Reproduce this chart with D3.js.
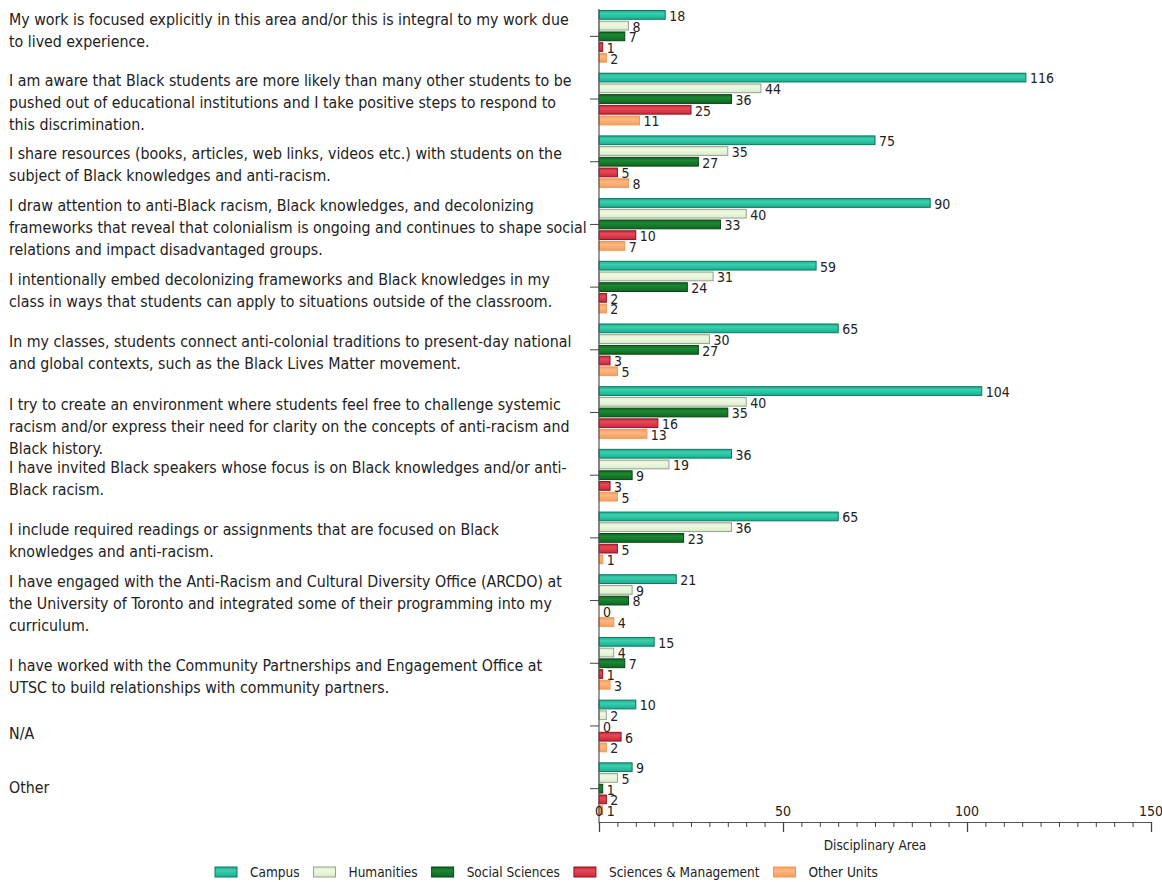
<!DOCTYPE html>
<html><head><meta charset="utf-8">
<script src="https://cdn.jsdelivr.net/npm/d3@7"></script>
<style>
html,body{margin:0;padding:0;background:#fff;}
svg{display:block;}
text{font-family:"DejaVu Sans Condensed","DejaVu Sans",sans-serif;fill:#222;}
</style></head>
<body>
<svg id="chart" width="1162" height="882"></svg>
<script>
const categories = [
  ["My work is focused explicitly in this area and/or this is integral to my work due","to lived experience."],
  ["I am aware that Black students are more likely than many other students to be","pushed out of educational institutions and I take positive steps to respond to","this discrimination."],
  ["I share resources (books, articles, web links, videos etc.) with students on the","subject of Black knowledges and anti-racism."],
  ["I draw attention to anti-Black racism, Black knowledges, and decolonizing","frameworks that reveal that colonialism is ongoing and continues to shape social","relations and impact disadvantaged groups."],
  ["I intentionally embed decolonizing frameworks and Black knowledges in my","class in ways that students can apply to situations outside of the classroom."],
  ["In my classes, students connect anti-colonial traditions to present-day national","and global contexts, such as the Black Lives Matter movement."],
  ["I try to create an environment where students feel free to challenge systemic","racism and/or express their need for clarity on the concepts of anti-racism and","Black history."],
  ["I have invited Black speakers whose focus is on Black knowledges and/or anti-","Black racism."],
  ["I include required readings or assignments that are focused on Black","knowledges and anti-racism."],
  ["I have engaged with the Anti-Racism and Cultural Diversity Office (ARCDO) at","the University of Toronto and integrated some of their programming into my","curriculum."],
  ["I have worked with the Community Partnerships and Engagement Office at","UTSC to build relationships with community partners."],
  ["N/A"],
  ["Other"]
];
const seriesNames = ["Campus","Humanities","Social Sciences","Sciences & Management","Other Units"];
const campus      = [18,116,75,90,59,65,104,36,65,21,15,10,9];
const humanities  = [8,44,35,40,31,30,40,19,36,9,4,2,5];
const social      = [7,36,27,33,24,27,35,9,23,8,7,0,1];
const sciences    = [1,25,5,10,2,3,16,3,5,0,1,6,2];
const otherUnits  = [2,11,8,7,2,5,13,5,1,4,3,2,1];
const xTicks = [0,50,100,150];
const xTitle = "Disciplinary Area";

const seriesValues = [campus, humanities, social, sciences, otherUnits];
const colors = [
  {base:"#13b290", light:"#3fcdae", stroke:"#0f765f"},
  {base:"#d8eec6", light:"#f0f8e4", stroke:"#9a9f96"},
  {base:"#0c6920", light:"#1d8734", stroke:"#064513"},
  {base:"#cf2538", light:"#e34a58", stroke:"#8a1622"},
  {base:"#f89d5a", light:"#fbb887", stroke:"#f39752"}
];
// layout: small vertical nudges of the category label blocks (px)
const labelNudge = [-9,0,0,0,0,0,11,0,0,0,10,5,-4];

const svg = d3.select("#chart");
const defs = svg.append("defs");
colors.forEach((c,i)=>{
  const g = defs.append("linearGradient").attr("id","g"+i).attr("x1",0).attr("y1",0).attr("x2",0).attr("y2",1);
  g.append("stop").attr("offset","0%").attr("stop-color",c.base);
  g.append("stop").attr("offset","35%").attr("stop-color",c.light);
  g.append("stop").attr("offset","100%").attr("stop-color",c.base);
});

const x = d3.scaleLinear().domain([0,150]).range([599,1151]);
const y0 = d3.scaleBand().domain(d3.range(categories.length)).range([5,820]).paddingInner(0.16).paddingOuter(0.08);
const y1 = d3.scaleBand().domain(d3.range(seriesNames.length)).range([0,y0.bandwidth()]).paddingInner(0.09);

// category labels
const lineH = 22;
const lab = svg.append("g");
categories.forEach((lines,i)=>{
  const cy = y0(i)+y0.bandwidth()/2 + 3 + labelNudge[i];
  const t = lab.append("text").attr("font-size",15.8);
  lines.forEach((ln,j)=>{
    t.append("tspan").attr("x",9).attr("y",cy + (j-(lines.length-1)/2)*lineH).attr("dy","0.35em").text(ln);
  });
});

// bars
const groups = svg.append("g").selectAll("g").data(categories.map((c,i)=>i)).join("g")
  .attr("transform",i=>`translate(0,${y0(i)})`);
groups.selectAll("rect").data(i=>seriesValues.map((s,k)=>({k,v:s[i]}))).join("rect")
  .attr("x",x(0)).attr("y",d=>y1(d.k)+0.5).attr("height",y1.bandwidth()-1)
  .attr("width",d=>Math.max(0,x(d.v)-x(0)))
  .attr("fill",d=>`url(#g${d.k})`).attr("stroke",d=>colors[d.k].stroke).attr("stroke-width",1)
  .attr("display",d=>d.v>0?null:"none");
groups.selectAll("text").data(i=>seriesValues.map((s,k)=>({k,v:s[i]}))).join("text")
  .attr("x",d=>x(d.v)+4).attr("y",d=>y1(d.k)+y1.bandwidth()/2+1).attr("dy","0.35em")
  .attr("font-size",14).text(d=>d.v);

// y axis
svg.append("line").attr("x1",x(0)).attr("x2",x(0)).attr("y1",9).attr("y2",823).attr("stroke","#555").attr("stroke-width",1.2);
svg.append("g").selectAll("line").data(categories.map((c,i)=>i)).join("line")
  .attr("x1",x(0)-9).attr("x2",x(0)).attr("y1",i=>y0(i)+y0.bandwidth()/2).attr("y2",i=>y0(i)+y0.bandwidth()/2)
  .attr("stroke","#444");

// x axis
const xa = svg.append("g").attr("transform","translate(0,822)")
  .call(d3.axisBottom(x).tickValues(d3.range(0,151,5)).tickSize(5).tickSizeOuter(0).tickFormat(""));
xa.select(".domain").attr("stroke","#555").attr("stroke-width",1.2);
xa.selectAll(".tick line").attr("stroke","#444")
  .attr("y2",d=>xTicks.includes(d)?10:5).attr("stroke-width",d=>xTicks.includes(d)?1.3:1);
svg.append("g").selectAll("text").data(xTicks).join("text")
  .attr("x",d=>x(d)).attr("y",811).attr("dy","0.35em").attr("text-anchor","middle").attr("font-size",14).text(d=>d);
svg.append("text").attr("x",(x(0)+x(150))/2).attr("y",845).attr("dy","0.35em").attr("text-anchor","middle")
  .attr("font-size",13.5).text(xTitle);

// legend
const leg = svg.append("g");
let lx = 215;
seriesNames.forEach((n,i)=>{
  leg.append("rect").attr("x",lx).attr("y",867).attr("width",22).attr("height",10)
    .attr("fill",`url(#g${i})`).attr("stroke",colors[i].stroke);
  const t = leg.append("text").attr("x",lx+35).attr("y",872).attr("dy","0.35em").attr("font-size",13.5).text(n);
  lx += 35 + t.node().getComputedTextLength() + 14;
});
</script>
</body></html>
